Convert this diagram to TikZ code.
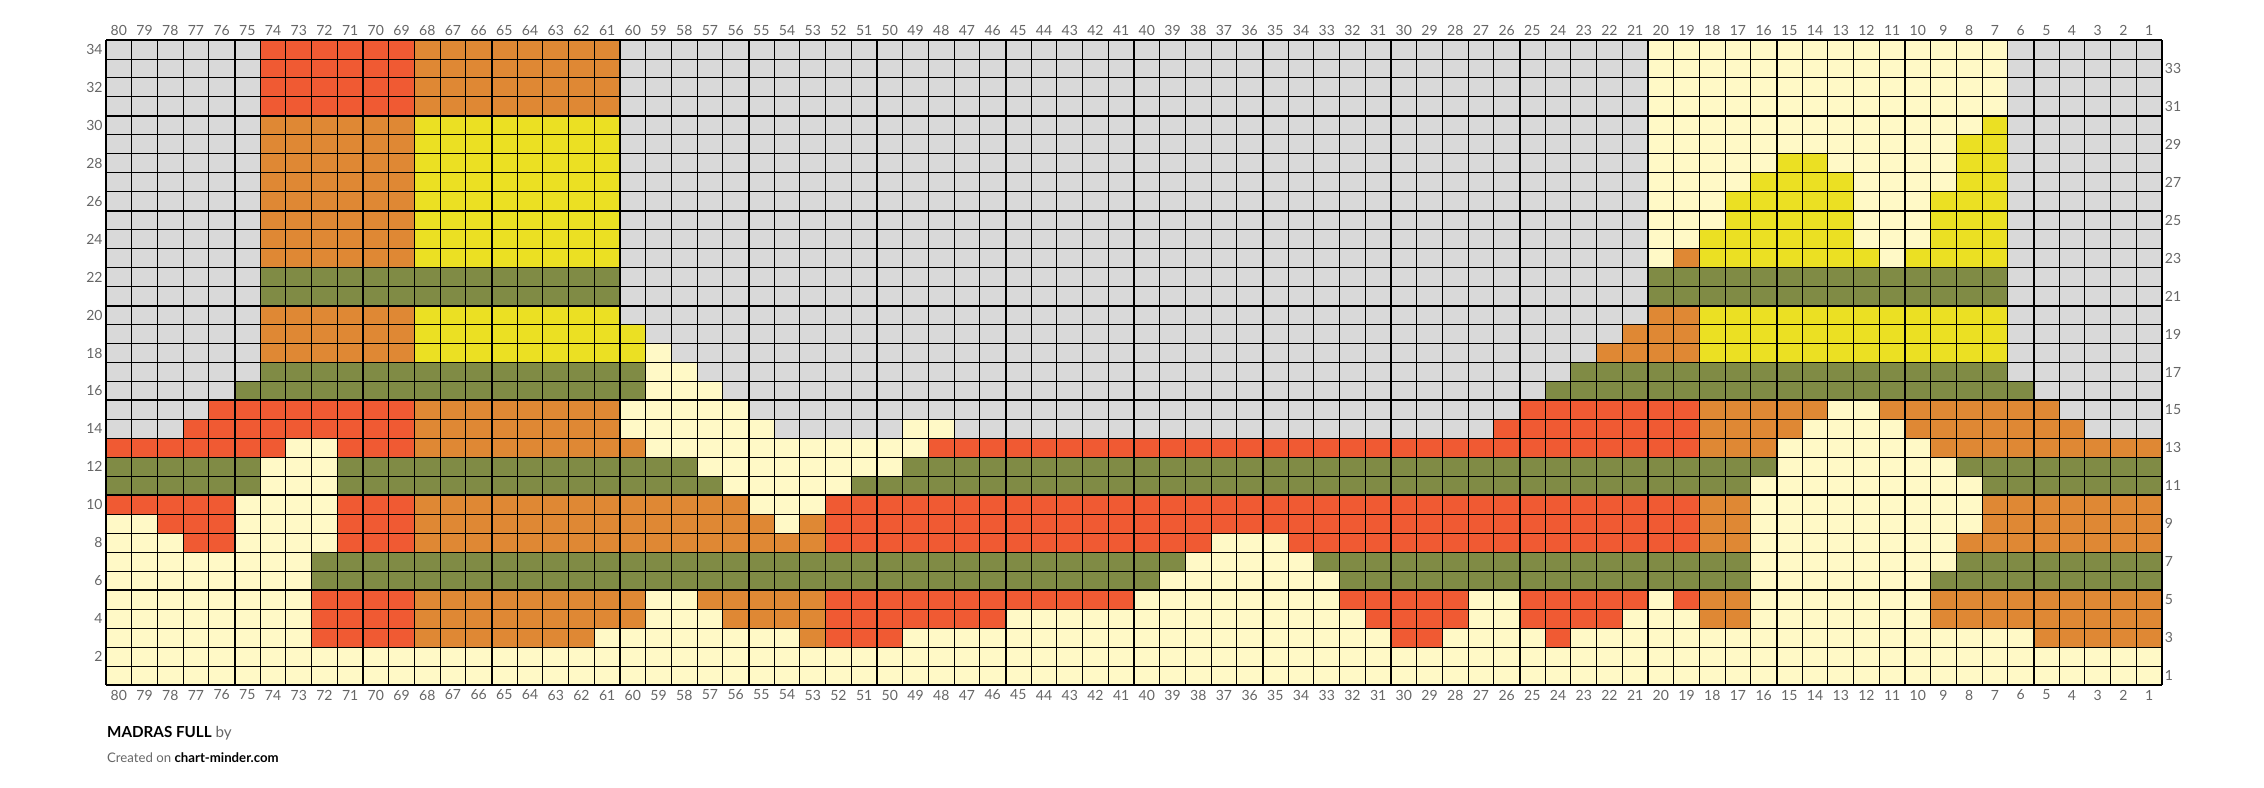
\documentclass[tikz,border=0pt]{standalone}
\usepackage{fontspec}
\setmainfont{Lato}
\definecolor{mgray}{HTML}{D9D9D9}
\definecolor{mcream}{HTML}{FFF9C6}
\definecolor{myellow}{HTML}{EBE023}
\definecolor{morange}{HTML}{DF8834}
\definecolor{mred}{HTML}{F05A33}
\definecolor{molive}{HTML}{808B45}
\definecolor{mtext}{HTML}{666666}
\begin{document}
\begin{tikzpicture}[x=12.85pt, y=9.485pt,
        numlab/.style={text=mtext, font=\fontsize{7}{8}\selectfont, inner sep=0pt},
        minor/.style={line width=0.45pt},
        major/.style={line width=1pt}]
        \useasboundingbox (-4.125,-5.43) rectangle (83.97,36.11);
        % Chart background (stitch 80 on the left, row 1 at the bottom)
        \fill[mgray] (0,0) rectangle (80,34);
        % Colour blocks: left stitch/right stitch/first row/last row/colour
        \foreach \a/\b/\lo/\hi/\c in {
            74/69/31/34/mred, 68/61/31/34/morange, 20/7/31/34/mcream,
            74/69/23/30/morange, 68/61/23/30/myellow, 20/7/23/30/mcream,
            7/7/23/30/myellow, 8/8/23/29/myellow, 9/9/23/26/myellow, 10/10/23/23/myellow,
            15/14/23/28/myellow, 16/16/23/27/myellow, 13/13/23/27/myellow, 17/17/23/26/myellow,
            18/18/23/24/myellow, 12/12/23/23/myellow, 19/19/23/23/morange,
            74/61/21/22/molive, 20/7/21/22/molive,
            74/69/18/20/morange, 68/61/18/20/myellow, 60/60/18/19/myellow, 59/59/18/18/mcream,
            22/22/18/18/morange, 21/21/18/19/morange, 20/19/18/20/morange, 18/7/18/20/myellow,
            74/60/16/17/molive, 75/75/16/16/molive, 59/58/16/17/mcream, 57/57/16/16/mcream,
            23/7/16/17/molive, 24/24/16/16/molive, 6/6/16/16/molive,
            76/69/15/15/mred, 68/61/15/15/morange, 60/56/15/15/mcream, 25/19/15/15/mred,
            18/14/15/15/morange, 13/12/15/15/mcream, 11/5/15/15/morange,
            77/69/14/14/mred, 68/61/14/14/morange, 60/55/14/14/mcream, 49/48/14/14/mcream,
            26/19/14/14/mred, 18/15/14/14/morange, 14/11/14/14/mcream, 10/4/14/14/morange,
            80/1/13/13/mred, 73/72/13/13/mcream, 68/60/13/13/morange, 59/49/13/13/mcream,
            18/16/13/13/morange, 15/10/13/13/mcream, 9/1/13/13/morange,
            80/1/11/12/molive, 74/72/11/12/mcream, 57/50/12/12/mcream, 56/52/11/11/mcream,
            15/9/12/12/mcream, 16/8/11/11/mcream,
            80/1/8/10/mred, 80/79/9/9/mcream, 80/78/8/8/mcream, 75/72/8/10/mcream,
            68/53/8/10/morange, 55/53/10/10/mcream, 54/54/9/9/mcream, 37/35/8/8/mcream,
            18/17/8/10/morange, 16/8/9/10/mcream, 16/9/8/8/mcream, 8/8/8/8/morange, 7/1/8/10/morange,
            80/1/6/7/molive, 80/73/6/7/mcream, 38/34/7/7/mcream, 39/33/6/6/mcream,
            16/9/7/7/mcream, 16/10/6/6/mcream,
            80/1/1/5/mcream, 72/69/3/5/mred, 68/62/3/5/morange, 61/60/4/5/morange,
            57/57/5/5/morange, 56/53/4/5/morange, 53/53/3/3/morange, 52/50/3/5/mred,
            49/46/4/5/mred, 45/41/5/5/mred, 32/32/5/5/mred, 31/31/4/5/mred, 30/29/3/5/mred,
            28/28/4/5/mred, 25/22/4/5/mred, 21/21/5/5/mred, 24/24/3/3/mred, 19/19/5/5/mred,
            18/17/4/5/morange, 9/1/4/5/morange, 5/1/3/3/morange}
            \fill[\c] (80-\a,\lo-1) rectangle (81-\b,\hi);
        % Grid, heavier every 5 stitches and rows
        \foreach \i in {0,...,80} \draw[minor] (\i,0) -- (\i,34);
        \foreach \j in {0,...,34} \draw[minor] (0,\j) -- (80,\j);
        \foreach \i in {0,5,...,80} \draw[major] (\i,0) -- (\i,34);
        \foreach \j in {0,5,...,30,34} \draw[major] (0,\j) -- (80,\j);
        % Stitch numbers
        \foreach \s in {1,...,80} {
            \node[numlab] (top\s) at (80.5-\s,34.49) {\s};
            \node[numlab] (bot\s) at (80.5-\s,-0.53) {\s};
        }
        % Row numbers: even on the left, odd on the right
        \foreach \r in {2,4,...,34} \node[numlab, anchor=east] (rowl\r) at (-0.12,\r-0.5) {\r};
        \foreach \r in {1,3,...,33} \node[numlab, anchor=west] (rowr\r) at (80.1,\r-0.5) {\r};
        % Caption
        \node[anchor=base west, inner sep=0pt, font=\fontsize{7.6}{9}\selectfont] (title) at (0.03,-2.79)
            {\textbf{MADRAS FULL} \textcolor{mtext}{by}};
        \node[anchor=base west, inner sep=0pt, font=\fontsize{6.6}{8}\selectfont] (credit) at (0.03,-4.11)
            {\textcolor{mtext}{Created on} \textbf{chart-minder.com}};
    \end{tikzpicture}
\end{document}
